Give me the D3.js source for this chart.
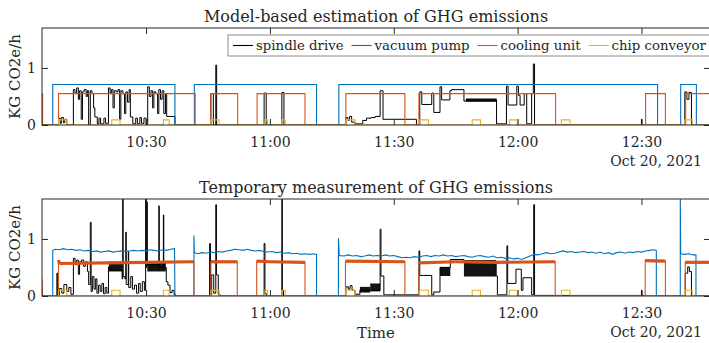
<!DOCTYPE html>
<html><head><meta charset="utf-8">
<script src="https://cdn.jsdelivr.net/npm/d3@7"></script>
<style>body{margin:0;background:#fff}svg{display:block}text{font-family:"DejaVu Serif",serif;fill:#262626}</style>
</head><body><svg id="c" width="709" height="343"></svg>
<script>
// ---- DATA (time in minutes after 10:00 on Oct 20, 2021; value in KG CO2e/h) ----
const seriesNames = ["spindle drive", "vacuum pump", "cooling unit", "chip conveyor"];
const xTickLabels = ["10:30", "11:00", "11:30", "12:00", "12:30"];
const xTickMinutes = [30, 60, 90, 120, 150];
const yTicks = [0, 1];
const xDomainMinutes = [4.8, 166.6];

// Model-based (top) — step series [minute, value]
const modelSpindle = [[4.8,0],[8.8,0.12],[9.2,0.03],[9.5,0.13],[10.0,0.04],[10.3,0.1],[10.8,0],[12.4,0.62],[12.8,0.55],[13.2,0.65],[13.6,0.45],[13.9,0.6],[14.3,0.1],[14.6,0.58],[15.0,0.62],[15.5,0.5],[15.8,0.6],[16.1,0],[16.5,0.6],[16.9,0.55],[17.3,0.3],[17.6,0.14],[18.2,0.02],[18.6,0.12],[19.0,0.02],[19.8,0.12],[20.2,0.03],[20.9,0.65],[21.3,0.55],[21.6,0.62],[22.0,0.3],[22.3,0.6],[22.8,0.58],[23.2,0.62],[23.6,0.1],[23.9,0.6],[24.4,0.55],[24.8,0.2],[25.1,0.58],[25.5,0.4],[25.9,0.62],[26.2,0.14],[26.8,0.02],[27.5,0.12],[27.9,0.02],[28.5,0.13],[28.9,0.03],[29.5,0.12],[30.0,0],[30.4,0.67],[30.8,0.5],[31.2,0.6],[31.6,0.3],[31.9,0.58],[32.4,0.55],[32.8,0.2],[33.1,0.62],[33.5,0.45],[33.9,0.6],[34.3,0.2],[34.7,0.55],[35.0,0.15],[37.0,0],[45.7,0.55],[46.3,0],[46.9,1.05],[47.1,0],[58.6,0.56],[59.1,0],[62.9,0.57],[63.4,0],[78.4,0.13],[78.9,0.08],[79.3,0.15],[79.8,0.05],[80.6,0.02],[82.5,0.08],[83.4,0.12],[84.5,0.13],[85.5,0.15],[86.7,0.6],[87.4,0.1],[95.5,0],[96.3,0.58],[96.8,0.36],[99.2,0.56],[99.7,0.22],[101.2,0.67],[101.6,0.44],[103.6,0.6],[104.0,0.62],[107.0,0.42],[107.5,0.44],[114.9,0.02],[117.3,0.68],[117.7,0.35],[119.8,0.68],[120.2,0.52],[120.6,0.35],[121.6,0.55],[122.2,0.02],[123.4,0.55],[123.8,1.07],[124.1,0],[150.0,0.1],[150.1,0],[160.5,0.58],[161.0,0.45],[161.5,0.57],[162.1,0],[166.6,0]];
const modelSpindleBands = [[107.5,114.9,0.405,0.465]];
const modelVacuum = [[4.8,0],[7.4,0.71],[37.0,0],[41.7,0.71],[71.3,0],[76.7,0.71],[153.9,0],[159.5,0.71],[163.3,0],[166.6,0]];
const modelCooling = [[4.8,0.55],[4.95,0],[8.8,0.55],[41.9,0],[45.7,0.55],[52.2,0],[56.9,0.55],[68.5,0],[78.4,0.55],[92.7,0],[96.1,0.55],[129.2,0],[151.0,0.55],[155.8,0],[160.7,0.55],[166.6,0.55]];
const modelChip = [[4.8,0],[8.8,0.09],[10.8,0],[21.7,0.09],[23.7,0],[34.2,0.09],[35.6,0],[45.7,0.09],[47.7,0],[58.8,0.09],[59.4,0],[62.9,0.09],[63.7,0],[78.4,0.09],[80.6,0],[96.3,0.09],[98.4,0],[109.0,0.09],[111.0,0],[118.0,0.09],[119.9,0],[130.6,0.09],[132.7,0],[160.5,0.09],[162.3,0],[166.6,0]];

// Measurement (bottom)
const measSpindle = [[4.8,0],[8.4,0.4],[8.6,0.02],[9.0,0.13],[9.6,0.05],[10.1,0.2],[10.8,0.08],[11.3,0.15],[11.8,0.03],[12.4,0.66],[12.8,0.55],[13.2,0.63],[13.6,0.38],[13.9,0.6],[14.4,0.63],[14.9,0.52],[15.3,0.6],[15.8,0.43],[16.1,0.2],[16.5,1.29],[16.7,0.08],[17.0,0.34],[17.4,0.12],[17.8,0.3],[18.1,0.05],[18.5,0.19],[18.9,0.08],[19.3,0.22],[19.7,0.04],[20.1,0.15],[20.5,0.05],[20.9,0.51],[21.3,0.45],[24.2,0.3],[24.35,1.8],[24.45,0.34],[24.9,0.3],[25.1,1.12],[25.2,0.2],[25.7,0.78],[25.8,0.15],[26.3,0.34],[26.7,0.12],[27.2,0.19],[27.7,0.05],[28.2,0.22],[28.6,0.08],[29.1,0.25],[29.6,0.1],[29.9,1.8],[30.05,0.5],[30.2,1.65],[30.3,0.55],[33.1,1.58],[33.2,0.5],[34.2,1.42],[34.3,0.5],[34.9,0.25],[35.3,0.19],[35.8,0.06],[36.3,0.1],[36.8,0.02],[37.2,0],[45.4,0.92],[45.6,0.02],[45.9,0.37],[46.4,0.05],[46.9,1.6],[47.05,0.37],[47.5,0.02],[48.0,0],[58.6,0.92],[58.8,0.05],[59.1,0],[62.9,1.8],[63.0,0.1],[63.3,0],[78.4,0.16],[79.0,0.12],[79.4,0.18],[79.9,0.1],[80.6,0.03],[81.8,0.1],[86.7,1.17],[86.9,0.35],[87.6,0.02],[96.1,0.79],[96.3,0.36],[99.2,0.02],[99.7,0.07],[101.2,0.5],[103.7,0.64],[107.0,0.6],[114.8,0.35],[115.1,0.02],[117.4,0.88],[117.6,0.22],[119.6,0.47],[120.9,0.1],[121.3,0.32],[123.4,0.02],[123.9,1.6],[124.1,0.01],[150.0,0.1],[150.1,0.01],[151.0,0],[160.6,0.4],[161.2,0.51],[161.6,0.43],[162.1,0],[166.6,0]];
const measSpindleBands = [[21.0,24.2,0.43,0.6],[30.3,34.8,0.43,0.6],[81.8,84.3,0.06,0.16],[84.3,86.7,0.08,0.22],[101.2,103.7,0.35,0.51],[107.0,114.8,0.34,0.63]];
const measVacuum = [[4.8,0],[7.4,0],[7.4,0.8],[8,0.82],[9,0.81],[10,0.83],[11,0.81],[12,0.82],[13,0.8],[14,0.81],[15,0.79],[16,0.8],[17,0.78],[18,0.79],[19,0.77],[20,0.78],[21,0.79],[22,0.77],[23,0.78],[24,0.79],[25,0.78],[26,0.79],[27,0.8],[28,0.79],[29,0.8],[30,0.79],[31,0.81],[32,0.8],[33,0.79],[34,0.81],[35,0.8],[36,0.82],[36.9,0.83],[37.0,0],[41.6,0],[41.6,1.06],[41.7,0.76],[42.5,0.74],[43.5,0.76],[44.5,0.75],[45.5,0.77],[46.5,0.76],[47.5,0.78],[48.5,0.77],[49.5,0.79],[50.5,0.8],[51.5,0.82],[52.5,0.81],[53.5,0.8],[54.5,0.82],[55.5,0.8],[56.5,0.79],[57.5,0.8],[58.5,0.78],[59.5,0.77],[60.5,0.78],[61.5,0.76],[62.5,0.77],[63.5,0.75],[64.5,0.76],[65.5,0.74],[66.5,0.75],[67.5,0.73],[68.5,0.74],[69.5,0.73],[70.5,0.74],[71.3,0.73],[71.3,0],[76.6,0],[76.6,1.01],[76.8,0.71],[78,0.7],[79,0.72],[80,0.7],[81,0.71],[82,0.69],[83,0.7],[84,0.72],[85,0.7],[86,0.71],[87,0.7],[88,0.72],[89,0.7],[90,0.71],[91,0.69],[92,0.67],[93,0.68],[94,0.67],[95,0.69],[96,0.68],[97,0.7],[98,0.71],[99,0.69],[100,0.71],[101,0.7],[102,0.72],[103,0.7],[104,0.71],[105,0.69],[106,0.7],[107,0.71],[108,0.69],[109,0.68],[110,0.7],[111,0.71],[112,0.69],[113,0.68],[114,0.7],[115,0.67],[116,0.68],[117,0.66],[118,0.67],[119,0.65],[120,0.66],[121,0.64],[122,0.67],[123,0.7],[124,0.73],[125,0.72],[126,0.74],[127,0.76],[128,0.74],[129,0.75],[130,0.77],[131,0.79],[132,0.77],[133,0.78],[134,0.76],[135,0.77],[136,0.78],[137,0.76],[138,0.77],[139,0.75],[140,0.77],[141,0.74],[142,0.76],[143,0.73],[144,0.76],[145,0.77],[146,0.75],[147,0.77],[148,0.76],[149,0.78],[150,0.77],[151,0.79],[152,0.8],[153,0.81],[153.6,0.8],[153.6,0],[159.4,0],[159.4,1.8],[159.5,0.74],[160.5,0.73],[161.5,0.74],[162.5,0.72],[163.2,0.72],[163.2,0],[166.6,0]];
const measCooling = [[4.8,0.3],[4.95,0],[8.8,0],[8.8,0.63],[9.0,0.57],[20,0.58],[30,0.59],[41.6,0.6],[41.6,0],[45.7,0],[45.7,0.6],[52.1,0.6],[52.1,0],[56.8,0],[56.8,0.61],[60,0.6],[68.5,0.59],[68.5,0],[78.3,0],[78.3,0.61],[92.7,0.6],[92.7,0],[96.1,0],[96.1,0.58],[105,0.6],[115,0.59],[129.1,0.6],[129.1,0],[150.9,0],[150.9,0.62],[155.8,0.61],[155.8,0],[160.6,0],[160.6,0.59],[166.6,0.59]];
const measChip = [[4.8,0],[8.8,0.1],[10.8,0],[21.7,0.1],[23.7,0],[34.2,0.1],[35.6,0],[45.7,0.1],[47.7,0],[58.8,0.1],[59.4,0],[62.9,0.1],[63.7,0],[78.4,0.1],[80.6,0],[96.2,0.1],[98.4,0],[109.0,0.1],[111.0,0],[118.0,0.1],[119.9,0],[130.6,0.1],[132.7,0],[160.5,0.1],[162.3,0],[166.6,0]];

// ---- DRAWING ----
const colors = ["#000000", "#0072BD", "#D95319", "#EDB120"];
const base = new Date(2021, 9, 20, 10, 0, 0);
const T = m => new Date(base.getTime() + m * 60000);
const svg = d3.select("#c");
const L = 42, R = 710;
const x = d3.scaleTime().domain(xDomainMinutes.map(T)).range([L, R]);

function panel(top, bottom, title, data, opts) {
  const y = d3.scaleLinear().domain([0, 1.7]).range([bottom, top]);
  const id = "clip" + top;
  svg.append("clipPath").attr("id", id).append("rect")
    .attr("x", L).attr("y", top).attr("width", R - L).attr("height", bottom - top);
  const g = svg.append("g").attr("clip-path", `url(#${id})`);
  const stepLine = d3.line().x(d => x(T(d[0]))).y(d => y(d[1])).curve(d3.curveStepAfter);
  const linLine = d3.line().x(d => x(T(d[0]))).y(d => y(d[1]));
  g.append("path").attr("d", stepLine(data.spindle)).attr("fill", "none").attr("stroke", colors[0]).attr("stroke-width", 1);
  const band = d3.area().x(d => x(T(d[0]))).y0(d => y(d[1])).y1(d => y(d[2]));
  data.bands.forEach(b => {
    g.append("path").attr("d", band([[b[0], b[2], b[3]], [b[1], b[2], b[3]]])).attr("fill", colors[0]).attr("fill-opacity", 0.92);
  });
  g.append("path").attr("d", (opts.measured ? linLine : stepLine)(data.vacuum)).attr("fill", "none").attr("stroke", colors[1]).attr("stroke-width", 1.1);
  g.append("path").attr("d", (opts.measured ? linLine : stepLine)(data.cooling)).attr("fill", "none").attr("stroke", colors[2]).attr("stroke-width", 1.1);
  if (opts.measured) {
    for (let i = 0; i < data.cooling.length - 1; i++) {
      const a = data.cooling[i], b = data.cooling[i + 1];
      if (a[1] > 0.3 && b[1] > 0.3 && b[0] > a[0]) {
        g.append("line").attr("x1", x(T(a[0]))).attr("x2", x(T(b[0])))
          .attr("y1", y(a[1])).attr("y2", y(b[1]))
          .attr("stroke", colors[2]).attr("stroke-width", 3.2);
      }
    }
  }
  g.append("path").attr("d", stepLine(data.chip)).attr("fill", "none").attr("stroke", colors[3]).attr("stroke-width", 1.1);

  const tv = xTickMinutes.map(T);
  svg.append("g").attr("transform", `translate(0,${bottom})`)
    .call(d3.axisBottom(x).tickValues(tv).tickFormat((d, i) => xTickLabels[i]).tickSizeInner(-6).tickSizeOuter(0).tickPadding(12));
  svg.append("g").attr("transform", `translate(0,${top})`)
    .call(d3.axisTop(x).tickValues(tv).tickFormat("").tickSizeInner(-6).tickSizeOuter(0));
  svg.append("g").attr("transform", `translate(${L},0)`)
    .call(d3.axisLeft(y).tickValues(yTicks).tickFormat(d3.format("d")).tickSizeInner(-6).tickSizeOuter(0).tickPadding(6));
  svg.append("g").attr("transform", `translate(${R},0)`)
    .call(d3.axisRight(y).tickValues(yTicks).tickFormat("").tickSizeInner(-6).tickSizeOuter(0));
  svg.selectAll(".tick text").attr("font-family", "DejaVu Serif").attr("font-size", 14).attr("fill", "#262626");
  svg.selectAll(".domain").remove();
  svg.selectAll(".tick line").attr("stroke", "#262626");
  svg.append("rect").attr("x", L).attr("y", top).attr("width", R - L).attr("height", bottom - top)
    .attr("fill", "none").attr("stroke", "#262626").attr("stroke-width", 1);

  svg.append("text").attr("x", (L + R) / 2).attr("y", top - 6).attr("text-anchor", "middle")
    .attr("font-size", 16).text(title);
  svg.append("text").attr("transform", `translate(20,${(top + bottom) / 2}) rotate(-90)`)
    .attr("text-anchor", "middle").attr("font-size", 15).text("KG CO2e/h");
  svg.append("text").attr("x", 702).attr("y", bottom + 41).attr("text-anchor", "end")
    .attr("font-size", 14).text("Oct 20, 2021");
  return y;
}

panel(28, 125, "Model-based estimation of GHG emissions",
  {spindle: modelSpindle, bands: modelSpindleBands, vacuum: modelVacuum, cooling: modelCooling, chip: modelChip}, {measured: false});
panel(199, 296, "Temporary measurement of GHG emissions",
  {spindle: measSpindle, bands: measSpindleBands, vacuum: measVacuum, cooling: measCooling, chip: measChip}, {measured: true});

svg.append("text").attr("x", (L + R) / 2).attr("y", 338).attr("text-anchor", "middle")
  .attr("font-size", 15).text("Time");

// legend
const lg = svg.append("g");
const lbox = lg.append("rect").attr("y", 35).attr("height", 21).attr("fill", "#fff")
  .attr("stroke", "#8c8c8c").attr("stroke-width", 1);
let cx = 233;
seriesNames.forEach((n, i) => {
  lg.append("line").attr("x1", cx).attr("x2", cx + 20).attr("y1", 45.5).attr("y2", 45.5)
    .attr("stroke", colors[i]).attr("stroke-width", 1.1);
  const t = lg.append("text").attr("x", cx + 23).attr("y", 50).attr("font-size", 13.3).text(n);
  cx += 23 + t.node().getComputedTextLength() + 8;
});
lbox.attr("x", 228).attr("width", cx - 8 + 4 - 228);
</script></body></html>
